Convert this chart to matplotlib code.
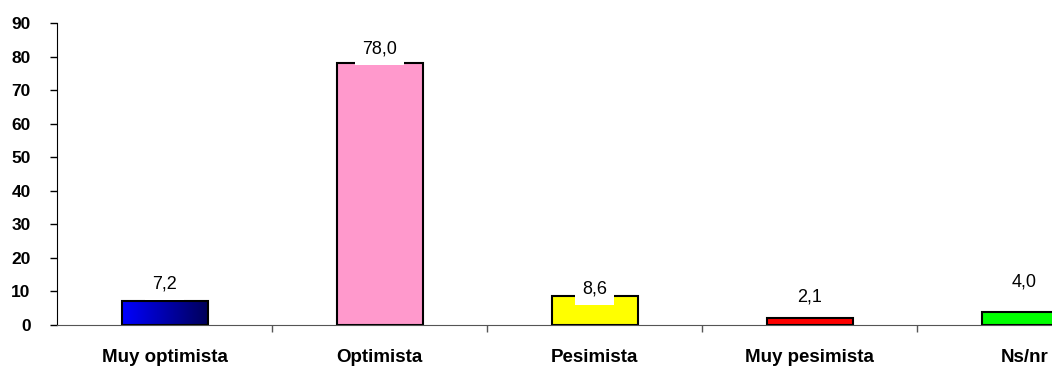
import numpy as np
import matplotlib
matplotlib.use('Agg')
import matplotlib.pyplot as plt
from matplotlib.colors import LinearSegmentedColormap

categories = ['Muy optimista', 'Optimista', 'Pesimista', 'Muy pesimista', 'Ns/nr']
values = [7.2, 78.0, 8.6, 2.1, 4.0]
labels = ['7,2', '78,0', '8,6', '2,1', '4,0']
colors = ['#0000ff', '#ff99cc', '#ffff00', '#ff0000', '#00ff00']
label_offsets = [12, 10, 5, 15, 21]  # points above bar top, as in the original

plt.rcParams['font.family'] = ['Liberation Sans', 'DejaVu Sans']

fig = plt.figure(figsize=(10.52, 3.69), dpi=100)
# axes runs past the right edge, like the cropped original
ax = fig.add_axes([57 / 1052, 1 - 325 / 369, 1075 / 1052, 302 / 369])

x = np.arange(len(categories))
bars = ax.bar(x, values, width=0.4, color=colors, edgecolor='black',
              linewidth=1.5, zorder=2)

# blue bar has a left-to-right gradient
b = bars[0]
b.set_facecolor('none')
grad = LinearSegmentedColormap.from_list('g', ['#0000ff', '#00005a'])
im = ax.imshow(np.linspace(0, 1, 100).reshape(1, -1), cmap=grad, aspect='auto',
               extent=[b.get_x(), b.get_x() + b.get_width(), 0, b.get_height()],
               zorder=1.5)
im.set_clip_path(b)

for bar, lab, off in zip(bars, labels, label_offsets):
    ax.annotate(lab, (bar.get_x() + bar.get_width() / 2, bar.get_height()),
                xytext=(0, off), textcoords='offset points', ha='center',
                va='center', fontsize=13, zorder=4,
                bbox=dict(facecolor='white', edgecolor='none',
                          boxstyle='square,pad=0.4'))

ax.set_xlim(-0.5, len(categories) - 0.5)
ax.set_ylim(0, 90)
ax.set_yticks(range(0, 91, 10))
ax.tick_params(axis='y', direction='out', length=5, width=1, labelsize=12.5, pad=14)
for t in ax.get_yticklabels():
    t.set_fontweight('bold')

ax.set_xticks(x)
ax.set_xticklabels(categories, fontsize=13.5, fontweight='bold')
ax.tick_params(axis='x', length=0, pad=17)
ax.set_xticks(np.arange(0.5, len(categories) - 0.5, 1), minor=True)
ax.tick_params(axis='x', which='minor', direction='out', length=5, width=1,
               color='#555555')

ax.spines['top'].set_visible(False)
ax.spines['right'].set_visible(False)
ax.spines['bottom'].set_color('#555555')
ax.spines['left'].set_color('black')

fig.savefig('out.png', dpi=100)
